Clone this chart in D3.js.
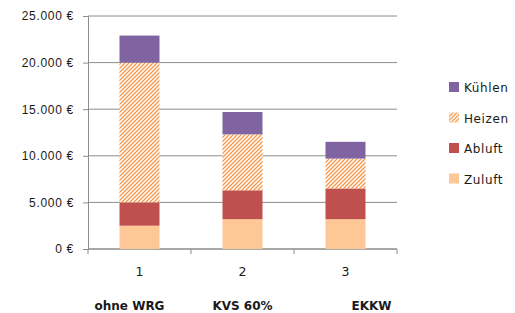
<!DOCTYPE html>
<html>
<head>
<meta charset="utf-8">
<script src="https://cdn.jsdelivr.net/npm/d3@7"></script>
<style>
  body { margin: 0; background: #fff; }
  svg { display: block; font-family: "DejaVu Sans", sans-serif; }
</style>
</head>
<body>
<div id="chart"></div>
<script>
// cost split per ventilation variant, stacked bottom to top
const categories = ["1", "2", "3"]
const variantNames = ["ohne WRG", "KVS 60%", "EKKW"]
const seriesKeys = ["Zuluft", "Abluft", "Heizen", "Kühlen"]
const zuluft = [2500, 3200, 3200]
const abluft = [2500, 3100, 3300]
const heizen = [15000, 6000, 3200]
const kuehlen = [2900, 2400, 1800]
const yTicks = [0, 5000, 10000, 15000, 20000, 25000]

const rows = categories.map((c, i) => ({
  cat: c, Zuluft: zuluft[i], Abluft: abluft[i], Heizen: heizen[i], "Kühlen": kuehlen[i]
}))

const W = 515, H = 313
const m = { top: 16, right: 118, bottom: 64, left: 88 }
const w = W - m.left - m.right
const h = H - m.top - m.bottom

const svg = d3.select("#chart").append("svg")
  .attr("width", W).attr("height", H)

// diagonal hatch for Heizen
const defs = svg.append("defs")
const pat = defs.append("pattern")
  .attr("id", "hatch")
  .attr("patternUnits", "userSpaceOnUse")
  .attr("width", 4).attr("height", 4)
pat.append("rect").attr("width", 4).attr("height", 4).attr("fill", "#fff")
pat.append("path")
  .attr("d", "M-1,1 l2,-2 M0,4 l4,-4 M3,5 l2,-2")
  .attr("stroke", "#f79646").attr("stroke-width", 1.3)

const color = {
  "Zuluft": "#fdc896",
  "Abluft": "#c0504d",
  "Heizen": "url(#hatch)",
  "Kühlen": "#8064a2"
}

const g = svg.append("g").attr("transform", `translate(${m.left},${m.top})`)

const x = d3.scaleBand().domain(categories).range([0, w]).paddingInner(0).paddingOuter(0)
const y = d3.scaleLinear().domain([0, 25000]).range([h, 0])

// gridlines
g.selectAll(".grid").data(yTicks).join("line")
  .attr("x1", 0).attr("x2", w)
  .attr("y1", d => y(d)).attr("y2", d => y(d))
  .attr("stroke", "#8c8c8c").attr("stroke-width", 1)

// y axis
const yAxis = g.append("g")
  .call(d3.axisLeft(y).tickValues(yTicks).tickSize(5).tickPadding(9)
    .tickFormat(d => d3.format(",")(d).replace(/,/g, ".") + " €"))
yAxis.selectAll("line").attr("stroke", "#8c8c8c")
yAxis.select(".domain").attr("stroke", "#8c8c8c")
yAxis.selectAll("text").style("font-size", "12px").style("letter-spacing", "0.7px").attr("fill", "#1a1a1a")

// x axis with ticks on the category boundaries
const xAxisG = g.append("g").attr("transform", `translate(0,${h})`)
xAxisG.append("line").attr("x1", 0).attr("x2", w).attr("stroke", "#8c8c8c")
xAxisG.selectAll(".tk").data(d3.range(categories.length + 1)).join("line")
  .attr("x1", i => i * x.step()).attr("x2", i => i * x.step())
  .attr("y1", 0).attr("y2", 5).attr("stroke", "#8c8c8c")
xAxisG.selectAll(".lbl").data(categories).join("text")
  .attr("x", d => x(d) + x.bandwidth() / 2)
  .attr("y", 27)
  .attr("text-anchor", "middle")
  .style("font-size", "12.5px").attr("fill", "#1a1a1a")
  .text(d => d)

// variant names under the numbers
const nameShift = [-10, 0, 26]
g.selectAll(".vname").data(variantNames).join("text")
  .attr("x", (d, i) => x(categories[i]) + x.bandwidth() / 2 + nameShift[i])
  .attr("y", h + 61)
  .attr("text-anchor", "middle")
  .style("font-size", "12px").style("font-weight", "bold").attr("fill", "#1a1a1a")
  .text(d => d)

// stacked bars
const stacked = d3.stack().keys(seriesKeys)(rows)
const barW = 40
g.selectAll("g.layer").data(stacked).join("g")
  .attr("class", "layer")
  .attr("fill", d => color[d.key])
  .selectAll("rect").data(d => d).join("rect")
  .attr("x", d => x(d.data.cat) + x.bandwidth() / 2 - barW / 2)
  .attr("y", d => y(d[1]))
  .attr("width", barW)
  .attr("height", d => y(d[0]) - y(d[1]))

// legend, Kühlen on top
const legend = svg.append("g").attr("transform", "translate(449,82)")
seriesKeys.slice().reverse().forEach((k, i) => {
  const row = legend.append("g").attr("transform", `translate(0,${i * 30.5})`)
  row.append("rect").attr("width", 10).attr("height", 10).attr("fill", color[k])
  row.append("text").attr("x", 15).attr("y", 10)
    .style("font-size", "12px").style("letter-spacing", "0.6px").attr("fill", "#1a1a1a")
    .text(k)
})
</script>
</body>
</html>
